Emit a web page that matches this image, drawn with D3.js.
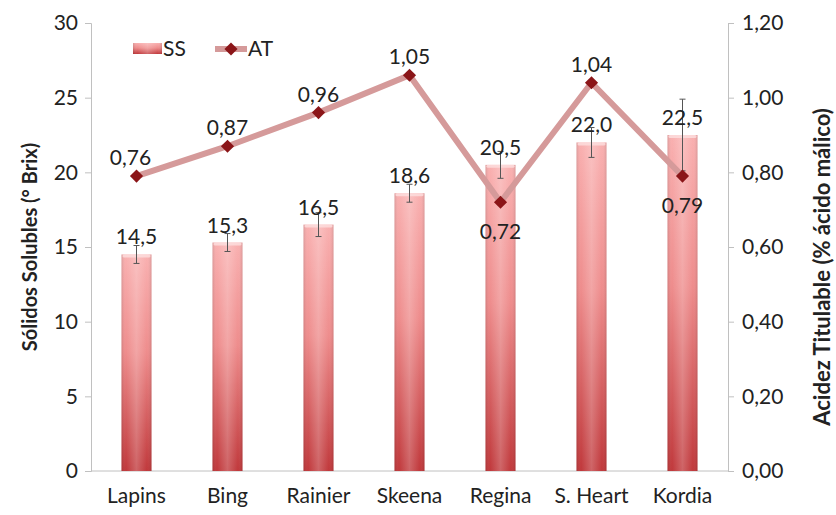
<!DOCTYPE html>
<html><head><meta charset="utf-8">
<script src="https://cdn.jsdelivr.net/npm/d3@7"></script>
<style>body{margin:0;background:#fff}svg{display:block}</style>
</head><body>
<svg id="c" width="836" height="515"></svg>
<script>
const categories = ["Lapins","Bing","Rainier","Skeena","Regina","S. Heart","Kordia"];
const ssValues = [14.5, 15.3, 16.5, 18.6, 20.5, 22.0, 22.5];
const ssErrors = [0.6, 0.6, 0.8, 0.6, 0.9, 1.0, 2.4];
const ssLabels = ["14,5","15,3","16,5","18,6","20,5","22,0","22,5"];
const atValues = [0.79, 0.87, 0.96, 1.06, 0.72, 1.04, 0.79];
const atLabels = ["0,76","0,87","0,96","1,05","0,72","1,04","0,79"];
const leftTicks = [0,5,10,15,20,25,30];
const rightTicks = [0,0.2,0.4,0.6,0.8,1.0,1.2];

const font = "Lato, 'Open Sans', sans-serif";
const FS = 21;
const svg = d3.select("#c");
const L = 91, R = 728, T = 23, B = 471;
const x = d3.scaleBand().domain(categories).range([L, R]).paddingInner(0.67).paddingOuter(0.335);
const y = d3.scaleLinear().domain([0,30]).range([B, T]);
const y2 = d3.scaleLinear().domain([0,1.2]).range([B, T]);

const defs = svg.append("defs");
const gv = defs.append("linearGradient").attr("id","gv").attr("x1",0).attr("y1",0).attr("x2",0).attr("y2",1);
gv.append("stop").attr("offset","0%").attr("stop-color","#f9b0b0");
gv.append("stop").attr("offset","45%").attr("stop-color","#ee8c8c");
gv.append("stop").attr("offset","100%").attr("stop-color","#c0383b");
const gh = defs.append("linearGradient").attr("id","gh").attr("x1",0).attr("y1",0).attr("x2",1).attr("y2",0);
gh.append("stop").attr("offset","0%").attr("stop-color","#000").attr("stop-opacity",0.12);
gh.append("stop").attr("offset","15%").attr("stop-color","#fff").attr("stop-opacity",0.0);
gh.append("stop").attr("offset","50%").attr("stop-color","#fff").attr("stop-opacity",0.22);
gh.append("stop").attr("offset","85%").attr("stop-color","#fff").attr("stop-opacity",0.0);
gh.append("stop").attr("offset","100%").attr("stop-color","#000").attr("stop-opacity",0.12);

// axes
const ga = svg.append("g").attr("transform",`translate(${L},0)`)
  .call(d3.axisLeft(y).tickValues(leftTicks).tickSize(6).tickPadding(7).tickFormat(d3.format("d")));
const gr = svg.append("g").attr("transform",`translate(${R},0)`)
  .call(d3.axisRight(y2).tickValues(rightTicks).tickSize(6).tickPadding(8).tickFormat(d => d.toFixed(2).replace(".",",")));
const gb = svg.append("g").attr("transform",`translate(0,${B})`)
  .call(d3.axisBottom(x).tickSize(0).tickPadding(17));
[ga,gr,gb].forEach(g=>{
  g.selectAll("path.domain").attr("stroke","#c0c0c0");
  g.selectAll(".tick line").attr("stroke","#c0c0c0");
  g.selectAll("text").attr("font-family",font).attr("font-size",FS).attr("fill","#222");
});
gb.select("path.domain").attr("d",`M${L},0H${R}`);

// bars
const bars = svg.append("g");
bars.selectAll("rect.b").data(ssValues).join("rect").attr("class","b")
  .attr("x",(d,i)=>x(categories[i])).attr("width",x.bandwidth())
  .attr("y",d=>y(d)).attr("height",d=>B-y(d)).attr("fill","url(#gv)");
bars.selectAll("rect.h").data(ssValues).join("rect").attr("class","h")
  .attr("x",(d,i)=>x(categories[i])).attr("width",x.bandwidth())
  .attr("y",d=>y(d)).attr("height",d=>B-y(d)).attr("fill","url(#gh)");
bars.selectAll("rect.t").data(ssValues).join("rect").attr("class","t")
  .attr("x",(d,i)=>x(categories[i])+1).attr("width",x.bandwidth()-2)
  .attr("y",d=>y(d)).attr("height",3).attr("rx",1.5).attr("fill","#fde0e0").attr("opacity",0.8);

// error bars
const eb = svg.append("g").attr("stroke","#555").attr("stroke-width",1);
ssValues.forEach((v,i)=>{
  const cx = x(categories[i]) + x.bandwidth()/2;
  const e = ssErrors[i];
  eb.append("line").attr("x1",cx).attr("x2",cx).attr("y1",y(v+e)).attr("y2",y(v-e));
  eb.append("line").attr("x1",cx-3).attr("x2",cx+3).attr("y1",y(v+e)).attr("y2",y(v+e));
  eb.append("line").attr("x1",cx-3).attr("x2",cx+3).attr("y1",y(v-e)).attr("y2",y(v-e));
});

// bar labels
svg.append("g").selectAll("text").data(ssValues).join("text")
  .attr("x",(d,i)=>x(categories[i])+x.bandwidth()/2).attr("y",d=>y(d)-10)
  .attr("text-anchor","middle").attr("font-family",font).attr("font-size",FS).attr("fill","#222")
  .text((d,i)=>ssLabels[i]);

// AT line
const cxs = i => x(categories[i]) + x.bandwidth()/2;
const line = d3.line().x((d,i)=>cxs(i)).y(d=>y2(d));
svg.append("path").datum(atValues).attr("d",line).attr("fill","none")
  .attr("stroke","#d59a9a").attr("stroke-width",6).attr("stroke-linejoin","miter");
const diamond = d3.symbol().type(d3.symbolDiamond2).size(110);
svg.append("g").selectAll("path").data(atValues).join("path")
  .attr("transform",(d,i)=>`translate(${cxs(i)},${y2(d)})`).attr("d",diamond)
  .attr("fill","#8b1518");
svg.append("g").selectAll("text").data(atValues).join("text")
  .attr("x",(d,i)=>cxs(i)-(i===0?6:0))
  .attr("y",(d,i)=>(i>0 && d<atValues[i-1]) ? y2(d)+37 : y2(d)-11)
  .attr("text-anchor","middle").attr("font-family",font).attr("font-size",FS).attr("fill","#222")
  .text((d,i)=>atLabels[i]);

// axis titles
svg.append("text").attr("transform",`translate(37,${(T+B)/2}) rotate(-90)`)
  .attr("text-anchor","middle").attr("font-family",font).attr("font-size",20).attr("font-weight","bold").attr("fill","#222")
  .text("Sólidos Solubles (° Brix)");
svg.append("text").attr("transform",`translate(830,${(T+B)/2+20}) rotate(-90)`)
  .attr("text-anchor","middle").attr("font-family",font).attr("font-size",22).attr("font-weight","bold").attr("fill","#222")
  .text("Acidez Titulable (% ácido málico)");

// legend
const lg = svg.append("g");
lg.append("rect").attr("x",133).attr("y",43).attr("width",29).attr("height",11).attr("fill","url(#gv)");
lg.append("rect").attr("x",133).attr("y",43).attr("width",29).attr("height",11).attr("fill","url(#gh)");
lg.append("text").attr("x",163).attr("y",56).attr("font-family",font).attr("font-size",FS).attr("fill","#222").text("SS");
lg.append("line").attr("x1",215).attr("x2",247).attr("y1",49).attr("y2",49).attr("stroke","#d59a9a").attr("stroke-width",6);
lg.append("path").attr("transform","translate(231,49)").attr("d",diamond).attr("fill","#8b1518");
lg.append("text").attr("x",248).attr("y",56).attr("font-family",font).attr("font-size",FS).attr("fill","#222").text("AT");
</script>
</body></html>
